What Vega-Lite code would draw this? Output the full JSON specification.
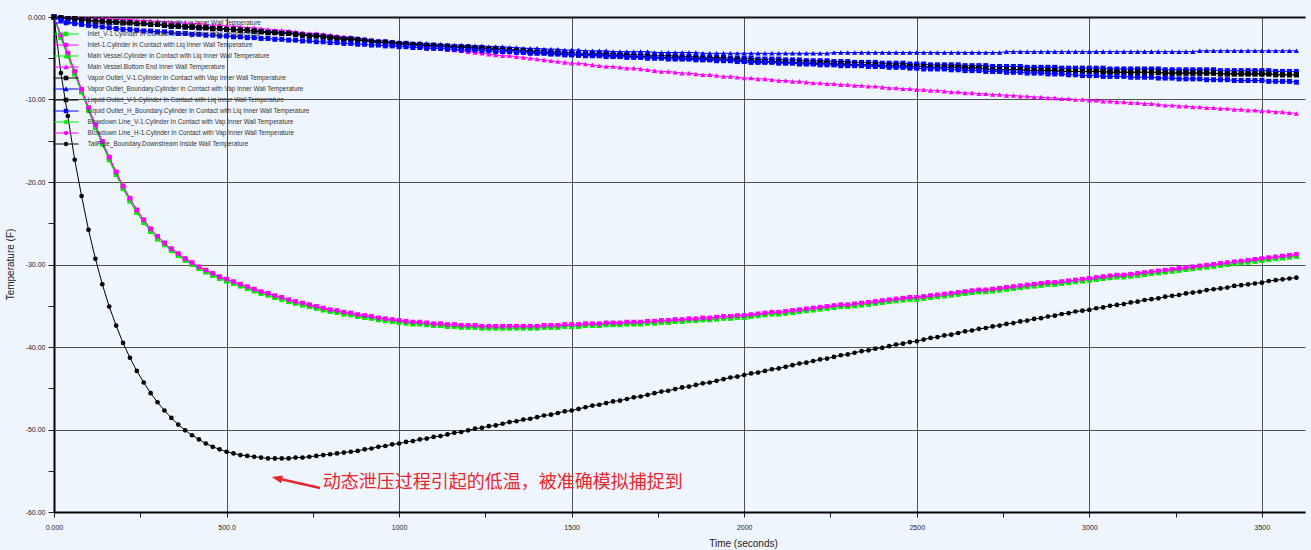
{
"$schema":"https://vega.github.io/schema/vega-lite/v6.json",
"width":1251,"height":495,
"autosize":{"type":"none"},
"padding":{"left":54,"top":17,"right":6,"bottom":38},
"background":"#EFF5FC",
"config":{"view":{"stroke":null,"fill":"#EFF5FC"},"font":"Liberation Sans","axis":{"labelFont":"Liberation Sans","titleFont":"Liberation Sans"},"legend":{"labelFont":"Liberation Sans"}},
"datasets":{"w":[
{"t":0,"a":0,"b":0,"c":0,"e":0,"f":0,"g":0,"i":0,"l":0},
{"t":20,"a":-0.1,"b":-2.5,"c":-2.2,"e":0,"f":-0.1,"g":-0.1,"i":-0.4,"l":-6.8},
{"t":40,"a":-0.2,"b":-4.7,"c":-4.4,"e":-0.1,"f":-0.2,"g":-0.2,"i":-0.6,"l":-12.0},
{"t":60,"a":-0.2,"b":-6.9,"c":-6.6,"e":-0.1,"f":-0.2,"g":-0.2,"i":-0.8,"l":-17.3},
{"t":80,"a":-0.3,"b":-9.1,"c":-8.8,"e":-0.1,"f":-0.3,"g":-0.3,"i":-0.9,"l":-21.7},
{"t":100,"a":-0.4,"b":-11.3,"c":-11.0,"e":-0.2,"f":-0.4,"g":-0.4,"i":-1.0,"l":-25.8},
{"t":120,"a":-0.5,"b":-13.4,"c":-13.1,"e":-0.2,"f":-0.5,"g":-0.5,"i":-1.1,"l":-29.3},
{"t":140,"a":-0.5,"b":-15.4,"c":-15.1,"e":-0.2,"f":-0.5,"g":-0.5,"i":-1.2,"l":-32.4},
{"t":160,"a":-0.6,"b":-17.3,"c":-17.0,"e":-0.2,"f":-0.6,"g":-0.6,"i":-1.3,"l":-35.1},
{"t":180,"a":-0.6,"b":-19.1,"c":-18.8,"e":-0.3,"f":-0.6,"g":-0.6,"i":-1.4,"l":-37.4},
{"t":200,"a":-0.7,"b":-20.8,"c":-20.5,"e":-0.3,"f":-0.7,"g":-0.7,"i":-1.5,"l":-39.5},
{"t":220,"a":-0.7,"b":-22.3,"c":-22.0,"e":-0.3,"f":-0.7,"g":-0.7,"i":-1.5,"l":-41.3},
{"t":240,"a":-0.8,"b":-23.7,"c":-23.4,"e":-0.4,"f":-0.8,"g":-0.8,"i":-1.6,"l":-42.9},
{"t":260,"a":-0.8,"b":-24.9,"c":-24.6,"e":-0.4,"f":-0.8,"g":-0.8,"i":-1.7,"l":-44.3},
{"t":280,"a":-0.9,"b":-26.0,"c":-25.7,"e":-0.5,"f":-0.9,"g":-0.9,"i":-1.7,"l":-45.6},
{"t":300,"a":-0.9,"b":-26.9,"c":-26.6,"e":-0.5,"f":-0.9,"g":-0.9,"i":-1.8,"l":-46.7},
{"t":320,"a":-1.0,"b":-27.6,"c":-27.4,"e":-0.6,"f":-1.0,"g":-1.0,"i":-1.8,"l":-47.7},
{"t":340,"a":-1.1,"b":-28.3,"c":-28.1,"e":-0.6,"f":-1.1,"g":-1.1,"i":-1.9,"l":-48.6},
{"t":360,"a":-1.1,"b":-28.9,"c":-28.7,"e":-0.7,"f":-1.1,"g":-1.1,"i":-2.0,"l":-49.4},
{"t":380,"a":-1.2,"b":-29.5,"c":-29.3,"e":-0.7,"f":-1.2,"g":-1.2,"i":-2.0,"l":-50.1},
{"t":400,"a":-1.2,"b":-30.0,"c":-29.8,"e":-0.8,"f":-1.2,"g":-1.2,"i":-2.1,"l":-50.7},
{"t":420,"a":-1.3,"b":-30.5,"c":-30.3,"e":-0.8,"f":-1.3,"g":-1.3,"i":-2.1,"l":-51.2},
{"t":440,"a":-1.3,"b":-30.9,"c":-30.7,"e":-0.9,"f":-1.3,"g":-1.3,"i":-2.2,"l":-51.7},
{"t":460,"a":-1.4,"b":-31.3,"c":-31.1,"e":-1.0,"f":-1.4,"g":-1.4,"i":-2.2,"l":-52.1},
{"t":480,"a":-1.4,"b":-31.7,"c":-31.5,"e":-1.0,"f":-1.4,"g":-1.4,"i":-2.3,"l":-52.4},
{"t":500,"a":-1.5,"b":-32.0,"c":-31.8,"e":-1.1,"f":-1.5,"g":-1.5,"i":-2.3,"l":-52.7},
{"t":520,"a":-1.5,"b":-32.3,"c":-32.1,"e":-1.1,"f":-1.5,"g":-1.5,"i":-2.4,"l":-52.9},
{"t":540,"a":-1.6,"b":-32.6,"c":-32.4,"e":-1.2,"f":-1.6,"g":-1.6,"i":-2.4,"l":-53.1},
{"t":560,"a":-1.6,"b":-32.9,"c":-32.7,"e":-1.3,"f":-1.6,"g":-1.6,"i":-2.5,"l":-53.2},
{"t":580,"a":-1.7,"b":-33.2,"c":-33.0,"e":-1.3,"f":-1.7,"g":-1.7,"i":-2.5,"l":-53.3},
{"t":600,"a":-1.7,"b":-33.5,"c":-33.3,"e":-1.4,"f":-1.8,"g":-1.7,"i":-2.6,"l":-53.4},
{"t":620,"a":-1.8,"b":-33.7,"c":-33.5,"e":-1.5,"f":-1.9,"g":-1.8,"i":-2.6,"l":-53.5},
{"t":640,"a":-1.8,"b":-34.0,"c":-33.8,"e":-1.6,"f":-1.9,"g":-1.8,"i":-2.7,"l":-53.5},
{"t":660,"a":-1.9,"b":-34.2,"c":-34.0,"e":-1.6,"f":-2.0,"g":-1.9,"i":-2.7,"l":-53.5},
{"t":680,"a":-1.9,"b":-34.5,"c":-34.3,"e":-1.7,"f":-2.0,"g":-1.9,"i":-2.8,"l":-53.5},
{"t":700,"a":-2.0,"b":-34.7,"c":-34.5,"e":-1.8,"f":-2.1,"g":-2.0,"i":-2.8,"l":-53.4},
{"t":720,"a":-2.1,"b":-34.9,"c":-34.7,"e":-1.9,"f":-2.2,"g":-2.1,"i":-2.9,"l":-53.4},
{"t":740,"a":-2.2,"b":-35.1,"c":-34.9,"e":-2.0,"f":-2.3,"g":-2.2,"i":-2.9,"l":-53.3},
{"t":760,"a":-2.2,"b":-35.3,"c":-35.1,"e":-2.0,"f":-2.3,"g":-2.2,"i":-3.0,"l":-53.2},
{"t":780,"a":-2.3,"b":-35.5,"c":-35.3,"e":-2.1,"f":-2.4,"g":-2.3,"i":-3.0,"l":-53.1},
{"t":800,"a":-2.4,"b":-35.7,"c":-35.5,"e":-2.2,"f":-2.5,"g":-2.3,"i":-3.1,"l":-53.0},
{"t":820,"a":-2.5,"b":-35.8,"c":-35.6,"e":-2.3,"f":-2.6,"g":-2.4,"i":-3.1,"l":-52.9},
{"t":840,"a":-2.6,"b":-36.0,"c":-35.8,"e":-2.4,"f":-2.7,"g":-2.5,"i":-3.2,"l":-52.8},
{"t":860,"a":-2.6,"b":-36.1,"c":-35.9,"e":-2.5,"f":-2.7,"g":-2.5,"i":-3.2,"l":-52.7},
{"t":880,"a":-2.7,"b":-36.3,"c":-36.1,"e":-2.6,"f":-2.8,"g":-2.6,"i":-3.3,"l":-52.6},
{"t":900,"a":-2.8,"b":-36.4,"c":-36.2,"e":-2.7,"f":-2.9,"g":-2.7,"i":-3.3,"l":-52.4},
{"t":920,"a":-2.9,"b":-36.5,"c":-36.3,"e":-2.8,"f":-3.0,"g":-2.8,"i":-3.4,"l":-52.3},
{"t":940,"a":-3.0,"b":-36.7,"c":-36.5,"e":-2.9,"f":-3.1,"g":-2.9,"i":-3.4,"l":-52.1},
{"t":960,"a":-3.0,"b":-36.8,"c":-36.6,"e":-3.0,"f":-3.1,"g":-2.9,"i":-3.5,"l":-52.0},
{"t":980,"a":-3.1,"b":-36.9,"c":-36.7,"e":-3.1,"f":-3.2,"g":-3.0,"i":-3.5,"l":-51.8},
{"t":1000,"a":-3.2,"b":-37.0,"c":-36.8,"e":-3.2,"f":-3.3,"g":-3.1,"i":-3.6,"l":-51.7},
{"t":1020,"a":-3.2,"b":-37.1,"c":-36.9,"e":-3.3,"f":-3.3,"g":-3.1,"i":-3.6,"l":-51.5},
{"t":1040,"a":-3.3,"b":-37.2,"c":-37.0,"e":-3.4,"f":-3.4,"g":-3.2,"i":-3.7,"l":-51.4},
{"t":1060,"a":-3.3,"b":-37.2,"c":-37.0,"e":-3.5,"f":-3.4,"g":-3.2,"i":-3.7,"l":-51.2},
{"t":1080,"a":-3.4,"b":-37.3,"c":-37.1,"e":-3.6,"f":-3.5,"g":-3.2,"i":-3.8,"l":-51.1},
{"t":1100,"a":-3.4,"b":-37.4,"c":-37.2,"e":-3.7,"f":-3.5,"g":-3.3,"i":-3.8,"l":-50.9},
{"t":1120,"a":-3.5,"b":-37.4,"c":-37.2,"e":-3.8,"f":-3.6,"g":-3.3,"i":-3.8,"l":-50.8},
{"t":1140,"a":-3.5,"b":-37.5,"c":-37.3,"e":-3.9,"f":-3.6,"g":-3.4,"i":-3.9,"l":-50.6},
{"t":1160,"a":-3.6,"b":-37.5,"c":-37.3,"e":-4.0,"f":-3.7,"g":-3.4,"i":-3.9,"l":-50.4},
{"t":1180,"a":-3.6,"b":-37.6,"c":-37.4,"e":-4.1,"f":-3.7,"g":-3.4,"i":-4.0,"l":-50.3},
{"t":1200,"a":-3.6,"b":-37.6,"c":-37.4,"e":-4.2,"f":-3.7,"g":-3.5,"i":-4.0,"l":-50.1},
{"t":1220,"a":-3.7,"b":-37.6,"c":-37.4,"e":-4.3,"f":-3.8,"g":-3.5,"i":-4.0,"l":-49.9},
{"t":1240,"a":-3.7,"b":-37.7,"c":-37.5,"e":-4.4,"f":-3.8,"g":-3.5,"i":-4.1,"l":-49.8},
{"t":1260,"a":-3.8,"b":-37.7,"c":-37.5,"e":-4.5,"f":-3.9,"g":-3.6,"i":-4.1,"l":-49.6},
{"t":1280,"a":-3.8,"b":-37.7,"c":-37.5,"e":-4.6,"f":-3.9,"g":-3.6,"i":-4.2,"l":-49.5},
{"t":1300,"a":-3.9,"b":-37.7,"c":-37.5,"e":-4.7,"f":-4.0,"g":-3.6,"i":-4.2,"l":-49.3},
{"t":1320,"a":-3.9,"b":-37.7,"c":-37.5,"e":-4.7,"f":-4.0,"g":-3.7,"i":-4.2,"l":-49.1},
{"t":1340,"a":-4.0,"b":-37.7,"c":-37.5,"e":-4.8,"f":-4.1,"g":-3.7,"i":-4.3,"l":-49.0},
{"t":1360,"a":-4.0,"b":-37.7,"c":-37.5,"e":-4.9,"f":-4.1,"g":-3.8,"i":-4.3,"l":-48.8},
{"t":1380,"a":-4.1,"b":-37.7,"c":-37.5,"e":-5.0,"f":-4.2,"g":-3.8,"i":-4.4,"l":-48.7},
{"t":1400,"a":-4.1,"b":-37.7,"c":-37.5,"e":-5.1,"f":-4.3,"g":-3.8,"i":-4.4,"l":-48.5},
{"t":1420,"a":-4.1,"b":-37.6,"c":-37.4,"e":-5.2,"f":-4.3,"g":-3.9,"i":-4.4,"l":-48.3},
{"t":1440,"a":-4.2,"b":-37.6,"c":-37.4,"e":-5.3,"f":-4.4,"g":-3.9,"i":-4.5,"l":-48.2},
{"t":1460,"a":-4.2,"b":-37.6,"c":-37.4,"e":-5.4,"f":-4.4,"g":-3.9,"i":-4.5,"l":-48.0},
{"t":1480,"a":-4.3,"b":-37.5,"c":-37.3,"e":-5.5,"f":-4.5,"g":-4.0,"i":-4.6,"l":-47.8},
{"t":1500,"a":-4.3,"b":-37.5,"c":-37.3,"e":-5.6,"f":-4.5,"g":-4.0,"i":-4.6,"l":-47.7},
{"t":1520,"a":-4.4,"b":-37.5,"c":-37.3,"e":-5.6,"f":-4.6,"g":-4.0,"i":-4.6,"l":-47.5},
{"t":1540,"a":-4.4,"b":-37.4,"c":-37.2,"e":-5.7,"f":-4.6,"g":-4.1,"i":-4.7,"l":-47.3},
{"t":1560,"a":-4.4,"b":-37.4,"c":-37.2,"e":-5.8,"f":-4.6,"g":-4.1,"i":-4.7,"l":-47.1},
{"t":1580,"a":-4.4,"b":-37.4,"c":-37.2,"e":-5.9,"f":-4.6,"g":-4.1,"i":-4.7,"l":-47.0},
{"t":1600,"a":-4.4,"b":-37.3,"c":-37.1,"e":-6.0,"f":-4.6,"g":-4.1,"i":-4.8,"l":-46.8},
{"t":1620,"a":-4.5,"b":-37.3,"c":-37.1,"e":-6.0,"f":-4.7,"g":-4.2,"i":-4.8,"l":-46.6},
{"t":1640,"a":-4.5,"b":-37.3,"c":-37.1,"e":-6.1,"f":-4.7,"g":-4.2,"i":-4.8,"l":-46.5},
{"t":1660,"a":-4.5,"b":-37.2,"c":-37.0,"e":-6.2,"f":-4.7,"g":-4.2,"i":-4.9,"l":-46.3},
{"t":1680,"a":-4.6,"b":-37.2,"c":-37.0,"e":-6.2,"f":-4.8,"g":-4.2,"i":-4.9,"l":-46.1},
{"t":1700,"a":-4.6,"b":-37.2,"c":-37.0,"e":-6.3,"f":-4.8,"g":-4.2,"i":-4.9,"l":-46.0},
{"t":1720,"a":-4.6,"b":-37.1,"c":-36.9,"e":-6.4,"f":-4.8,"g":-4.2,"i":-5.0,"l":-45.8},
{"t":1740,"a":-4.7,"b":-37.1,"c":-36.9,"e":-6.5,"f":-4.9,"g":-4.3,"i":-5.0,"l":-45.6},
{"t":1760,"a":-4.7,"b":-37.0,"c":-36.8,"e":-6.6,"f":-4.9,"g":-4.3,"i":-5.0,"l":-45.4},
{"t":1780,"a":-4.7,"b":-37.0,"c":-36.8,"e":-6.6,"f":-4.9,"g":-4.3,"i":-5.1,"l":-45.3},
{"t":1800,"a":-4.7,"b":-36.9,"c":-36.7,"e":-6.7,"f":-4.9,"g":-4.3,"i":-5.1,"l":-45.1},
{"t":1820,"a":-4.8,"b":-36.9,"c":-36.7,"e":-6.8,"f":-5.0,"g":-4.3,"i":-5.1,"l":-44.9},
{"t":1840,"a":-4.8,"b":-36.8,"c":-36.6,"e":-6.8,"f":-5.0,"g":-4.3,"i":-5.1,"l":-44.8},
{"t":1860,"a":-4.8,"b":-36.8,"c":-36.6,"e":-6.9,"f":-5.0,"g":-4.3,"i":-5.2,"l":-44.6},
{"t":1880,"a":-4.9,"b":-36.7,"c":-36.5,"e":-7.0,"f":-5.1,"g":-4.4,"i":-5.2,"l":-44.4},
{"t":1900,"a":-4.9,"b":-36.7,"c":-36.5,"e":-7.0,"f":-5.1,"g":-4.4,"i":-5.2,"l":-44.3},
{"t":1920,"a":-4.9,"b":-36.6,"c":-36.4,"e":-7.1,"f":-5.1,"g":-4.4,"i":-5.3,"l":-44.1},
{"t":1940,"a":-4.9,"b":-36.5,"c":-36.3,"e":-7.2,"f":-5.1,"g":-4.4,"i":-5.3,"l":-43.9},
{"t":1960,"a":-5.0,"b":-36.5,"c":-36.3,"e":-7.2,"f":-5.2,"g":-4.4,"i":-5.3,"l":-43.7},
{"t":1980,"a":-5.0,"b":-36.4,"c":-36.2,"e":-7.3,"f":-5.2,"g":-4.4,"i":-5.4,"l":-43.6},
{"t":2000,"a":-5.0,"b":-36.4,"c":-36.2,"e":-7.4,"f":-5.3,"g":-4.4,"i":-5.4,"l":-43.4},
{"t":2020,"a":-5.0,"b":-36.3,"c":-36.1,"e":-7.4,"f":-5.3,"g":-4.4,"i":-5.5,"l":-43.2},
{"t":2040,"a":-5.1,"b":-36.2,"c":-36.0,"e":-7.5,"f":-5.4,"g":-4.4,"i":-5.5,"l":-43.1},
{"t":2060,"a":-5.1,"b":-36.1,"c":-35.9,"e":-7.5,"f":-5.4,"g":-4.4,"i":-5.5,"l":-42.9},
{"t":2080,"a":-5.1,"b":-36.0,"c":-35.8,"e":-7.6,"f":-5.4,"g":-4.4,"i":-5.5,"l":-42.7},
{"t":2100,"a":-5.1,"b":-36.0,"c":-35.8,"e":-7.7,"f":-5.4,"g":-4.4,"i":-5.6,"l":-42.6},
{"t":2120,"a":-5.2,"b":-35.9,"c":-35.7,"e":-7.7,"f":-5.5,"g":-4.4,"i":-5.6,"l":-42.4},
{"t":2140,"a":-5.2,"b":-35.8,"c":-35.6,"e":-7.8,"f":-5.5,"g":-4.4,"i":-5.6,"l":-42.2},
{"t":2160,"a":-5.2,"b":-35.7,"c":-35.5,"e":-7.8,"f":-5.5,"g":-4.4,"i":-5.7,"l":-42.0},
{"t":2180,"a":-5.3,"b":-35.6,"c":-35.4,"e":-7.9,"f":-5.6,"g":-4.4,"i":-5.7,"l":-41.9},
{"t":2200,"a":-5.3,"b":-35.5,"c":-35.3,"e":-8.0,"f":-5.6,"g":-4.4,"i":-5.7,"l":-41.7},
{"t":2220,"a":-5.3,"b":-35.4,"c":-35.2,"e":-8.0,"f":-5.6,"g":-4.4,"i":-5.8,"l":-41.5},
{"t":2240,"a":-5.3,"b":-35.3,"c":-35.1,"e":-8.1,"f":-5.6,"g":-4.4,"i":-5.8,"l":-41.4},
{"t":2260,"a":-5.4,"b":-35.2,"c":-35.0,"e":-8.1,"f":-5.7,"g":-4.3,"i":-5.8,"l":-41.2},
{"t":2280,"a":-5.4,"b":-35.1,"c":-34.9,"e":-8.2,"f":-5.7,"g":-4.3,"i":-5.9,"l":-41.0},
{"t":2300,"a":-5.4,"b":-35.1,"c":-34.9,"e":-8.2,"f":-5.7,"g":-4.3,"i":-5.9,"l":-40.9},
{"t":2320,"a":-5.5,"b":-35.0,"c":-34.8,"e":-8.3,"f":-5.8,"g":-4.3,"i":-5.9,"l":-40.7},
{"t":2340,"a":-5.5,"b":-34.9,"c":-34.7,"e":-8.3,"f":-5.8,"g":-4.3,"i":-5.9,"l":-40.5},
{"t":2360,"a":-5.5,"b":-34.8,"c":-34.6,"e":-8.4,"f":-5.8,"g":-4.3,"i":-6.0,"l":-40.4},
{"t":2380,"a":-5.5,"b":-34.7,"c":-34.5,"e":-8.4,"f":-5.8,"g":-4.3,"i":-6.0,"l":-40.2},
{"t":2400,"a":-5.6,"b":-34.6,"c":-34.4,"e":-8.5,"f":-5.9,"g":-4.3,"i":-6.0,"l":-40.1},
{"t":2420,"a":-5.6,"b":-34.5,"c":-34.3,"e":-8.6,"f":-5.9,"g":-4.3,"i":-6.1,"l":-39.9},
{"t":2440,"a":-5.6,"b":-34.4,"c":-34.2,"e":-8.6,"f":-5.9,"g":-4.3,"i":-6.1,"l":-39.7},
{"t":2460,"a":-5.6,"b":-34.3,"c":-34.1,"e":-8.7,"f":-5.9,"g":-4.3,"i":-6.1,"l":-39.6},
{"t":2480,"a":-5.7,"b":-34.2,"c":-34.0,"e":-8.7,"f":-6.0,"g":-4.3,"i":-6.2,"l":-39.4},
{"t":2500,"a":-5.7,"b":-34.2,"c":-34.0,"e":-8.8,"f":-6.0,"g":-4.3,"i":-6.2,"l":-39.3},
{"t":2520,"a":-5.7,"b":-34.1,"c":-33.9,"e":-8.8,"f":-6.0,"g":-4.3,"i":-6.3,"l":-39.1},
{"t":2540,"a":-5.8,"b":-34.0,"c":-33.8,"e":-8.9,"f":-6.1,"g":-4.3,"i":-6.3,"l":-38.9},
{"t":2560,"a":-5.8,"b":-33.9,"c":-33.7,"e":-8.9,"f":-6.1,"g":-4.3,"i":-6.3,"l":-38.8},
{"t":2580,"a":-5.8,"b":-33.8,"c":-33.6,"e":-9.0,"f":-6.1,"g":-4.3,"i":-6.3,"l":-38.6},
{"t":2600,"a":-5.8,"b":-33.7,"c":-33.5,"e":-9.1,"f":-6.1,"g":-4.3,"i":-6.4,"l":-38.5},
{"t":2620,"a":-5.8,"b":-33.6,"c":-33.4,"e":-9.1,"f":-6.1,"g":-4.3,"i":-6.4,"l":-38.3},
{"t":2640,"a":-5.9,"b":-33.5,"c":-33.3,"e":-9.2,"f":-6.2,"g":-4.3,"i":-6.5,"l":-38.1},
{"t":2660,"a":-5.9,"b":-33.4,"c":-33.2,"e":-9.2,"f":-6.2,"g":-4.3,"i":-6.5,"l":-38.0},
{"t":2680,"a":-5.9,"b":-33.3,"c":-33.1,"e":-9.3,"f":-6.2,"g":-4.3,"i":-6.5,"l":-37.8},
{"t":2700,"a":-5.9,"b":-33.3,"c":-33.1,"e":-9.3,"f":-6.3,"g":-4.3,"i":-6.6,"l":-37.7},
{"t":2720,"a":-6.0,"b":-33.2,"c":-33.0,"e":-9.4,"f":-6.4,"g":-4.3,"i":-6.6,"l":-37.5},
{"t":2740,"a":-6.0,"b":-33.1,"c":-32.9,"e":-9.4,"f":-6.4,"g":-4.3,"i":-6.6,"l":-37.4},
{"t":2760,"a":-6.0,"b":-33.0,"c":-32.8,"e":-9.5,"f":-6.4,"g":-4.2,"i":-6.7,"l":-37.2},
{"t":2780,"a":-6.0,"b":-32.9,"c":-32.7,"e":-9.5,"f":-6.4,"g":-4.2,"i":-6.7,"l":-37.1},
{"t":2800,"a":-6.0,"b":-32.8,"c":-32.6,"e":-9.6,"f":-6.4,"g":-4.2,"i":-6.7,"l":-36.9},
{"t":2820,"a":-6.1,"b":-32.7,"c":-32.5,"e":-9.6,"f":-6.5,"g":-4.2,"i":-6.8,"l":-36.8},
{"t":2840,"a":-6.1,"b":-32.6,"c":-32.4,"e":-9.7,"f":-6.5,"g":-4.2,"i":-6.8,"l":-36.6},
{"t":2860,"a":-6.1,"b":-32.5,"c":-32.3,"e":-9.7,"f":-6.5,"g":-4.2,"i":-6.8,"l":-36.5},
{"t":2880,"a":-6.1,"b":-32.4,"c":-32.2,"e":-9.8,"f":-6.5,"g":-4.2,"i":-6.9,"l":-36.3},
{"t":2900,"a":-6.1,"b":-32.4,"c":-32.2,"e":-9.8,"f":-6.5,"g":-4.2,"i":-6.9,"l":-36.2},
{"t":2920,"a":-6.2,"b":-32.3,"c":-32.1,"e":-9.9,"f":-6.6,"g":-4.2,"i":-6.9,"l":-36.0},
{"t":2940,"a":-6.2,"b":-32.2,"c":-32.0,"e":-9.9,"f":-6.6,"g":-4.2,"i":-7.0,"l":-35.9},
{"t":2960,"a":-6.2,"b":-32.1,"c":-31.9,"e":-10.0,"f":-6.6,"g":-4.2,"i":-7.0,"l":-35.7},
{"t":2980,"a":-6.2,"b":-32.0,"c":-31.8,"e":-10.0,"f":-6.6,"g":-4.2,"i":-7.1,"l":-35.6},
{"t":3000,"a":-6.2,"b":-31.9,"c":-31.7,"e":-10.1,"f":-6.6,"g":-4.2,"i":-7.1,"l":-35.5},
{"t":3020,"a":-6.2,"b":-31.8,"c":-31.6,"e":-10.1,"f":-6.6,"g":-4.2,"i":-7.1,"l":-35.3},
{"t":3040,"a":-6.2,"b":-31.7,"c":-31.5,"e":-10.2,"f":-6.6,"g":-4.2,"i":-7.2,"l":-35.2},
{"t":3060,"a":-6.3,"b":-31.6,"c":-31.4,"e":-10.2,"f":-6.7,"g":-4.2,"i":-7.2,"l":-35.0},
{"t":3080,"a":-6.3,"b":-31.5,"c":-31.3,"e":-10.3,"f":-6.7,"g":-4.2,"i":-7.2,"l":-34.9},
{"t":3100,"a":-6.3,"b":-31.5,"c":-31.3,"e":-10.3,"f":-6.7,"g":-4.2,"i":-7.2,"l":-34.8},
{"t":3120,"a":-6.3,"b":-31.4,"c":-31.2,"e":-10.4,"f":-6.7,"g":-4.2,"i":-7.3,"l":-34.6},
{"t":3140,"a":-6.3,"b":-31.3,"c":-31.1,"e":-10.4,"f":-6.7,"g":-4.2,"i":-7.3,"l":-34.5},
{"t":3160,"a":-6.3,"b":-31.2,"c":-31.0,"e":-10.5,"f":-6.7,"g":-4.2,"i":-7.3,"l":-34.3},
{"t":3180,"a":-6.3,"b":-31.1,"c":-30.9,"e":-10.5,"f":-6.7,"g":-4.2,"i":-7.3,"l":-34.2},
{"t":3200,"a":-6.3,"b":-31.0,"c":-30.8,"e":-10.6,"f":-6.7,"g":-4.2,"i":-7.4,"l":-34.1},
{"t":3220,"a":-6.4,"b":-30.9,"c":-30.7,"e":-10.7,"f":-6.8,"g":-4.2,"i":-7.4,"l":-33.9},
{"t":3240,"a":-6.4,"b":-30.8,"c":-30.6,"e":-10.7,"f":-6.8,"g":-4.2,"i":-7.4,"l":-33.8},
{"t":3260,"a":-6.4,"b":-30.7,"c":-30.5,"e":-10.8,"f":-6.8,"g":-4.2,"i":-7.5,"l":-33.7},
{"t":3280,"a":-6.4,"b":-30.6,"c":-30.4,"e":-10.8,"f":-6.8,"g":-4.2,"i":-7.5,"l":-33.5},
{"t":3300,"a":-6.4,"b":-30.5,"c":-30.3,"e":-10.9,"f":-6.8,"g":-4.2,"i":-7.5,"l":-33.4},
{"t":3320,"a":-6.4,"b":-30.4,"c":-30.2,"e":-10.9,"f":-6.8,"g":-4.1,"i":-7.5,"l":-33.3},
{"t":3340,"a":-6.4,"b":-30.3,"c":-30.1,"e":-11.0,"f":-6.8,"g":-4.1,"i":-7.6,"l":-33.1},
{"t":3360,"a":-6.4,"b":-30.2,"c":-30.0,"e":-11.0,"f":-6.8,"g":-4.1,"i":-7.6,"l":-33.0},
{"t":3380,"a":-6.5,"b":-30.1,"c":-29.9,"e":-11.1,"f":-6.9,"g":-4.1,"i":-7.6,"l":-32.9},
{"t":3400,"a":-6.5,"b":-30.0,"c":-29.8,"e":-11.1,"f":-6.9,"g":-4.1,"i":-7.6,"l":-32.8},
{"t":3420,"a":-6.5,"b":-29.9,"c":-29.7,"e":-11.2,"f":-6.9,"g":-4.1,"i":-7.7,"l":-32.6},
{"t":3440,"a":-6.5,"b":-29.8,"c":-29.6,"e":-11.2,"f":-6.9,"g":-4.1,"i":-7.7,"l":-32.5},
{"t":3460,"a":-6.5,"b":-29.7,"c":-29.5,"e":-11.3,"f":-6.9,"g":-4.1,"i":-7.7,"l":-32.4},
{"t":3480,"a":-6.5,"b":-29.6,"c":-29.4,"e":-11.3,"f":-6.9,"g":-4.1,"i":-7.7,"l":-32.3},
{"t":3500,"a":-6.5,"b":-29.5,"c":-29.3,"e":-11.4,"f":-6.9,"g":-4.1,"i":-7.7,"l":-32.2},
{"t":3520,"a":-6.5,"b":-29.4,"c":-29.2,"e":-11.4,"f":-6.9,"g":-4.1,"i":-7.8,"l":-32.0},
{"t":3540,"a":-6.6,"b":-29.3,"c":-29.1,"e":-11.5,"f":-7.0,"g":-4.1,"i":-7.8,"l":-31.9},
{"t":3560,"a":-6.6,"b":-29.2,"c":-29.0,"e":-11.5,"f":-7.0,"g":-4.1,"i":-7.8,"l":-31.8},
{"t":3580,"a":-6.6,"b":-29.1,"c":-28.9,"e":-11.6,"f":-7.0,"g":-4.1,"i":-7.8,"l":-31.7},
{"t":3600,"a":-6.6,"b":-29.0,"c":-28.8,"e":-11.7,"f":-7.0,"g":-4.1,"i":-7.9,"l":-31.6}
]},
"layer":[
{"data":{"values":[]},
 "mark":{"type":"point","filled":true,"opacity":1},
 "encoding":{
  "x":{"field":"t","type":"quantitative","scale":{"domain":[0,3625],"nice":false,"zero":false},"axis":{"orient":"top","title":null,"labels":false,"ticks":false,"grid":false,"domainColor":"#111","domainWidth":2}},
  "y":{"field":"v","type":"quantitative","scale":{"domain":[-60,0],"nice":false},"axis":{"orient":"left","title":"Temperature (F)","values":[-60,-55,-50,-45,-40,-35,-30,-25,-20,-15,-10,-5,0],"format":".4r","labelExpr":"datum.value === 0 ? '0.000' : (datum.value % 10 === 0 ? replace(datum.label, '\u2212', '-') : '')","labelFlush":false,"labelOverlap":false,"labelFontSize":7,"labelColor":"#222","labelPadding":3,"tickColor":"#222","tickSize":6,"domainColor":"#000","domainWidth":2,"grid":true,"gridColor":"#505050","gridWidth":1,"gridOpacity":{"condition":{"test":"datum.value % 10 === 0","value":1},"value":0},"titleFontSize":10,"titleFontWeight":"normal","titleColor":"#222","titleX":-44,"titleY":247,"titleBaseline":"middle"}},
  "color":{"field":"s","type":"nominal","scale":{"domain":["Inlet_H-1.Cylinder In Contact with Liq Inner Wall Temperature","Inlet_V-1.Cylinder In Contact with Liq Inner Wall Temperature","Inlet-1.Cylinder In Contact with Liq Inner Wall Temperature","Main Vessel.Cylinder In Contact with Liq Inner Wall Temperature","Main Vessel.Bottom End Inner Wall Temperature","Vapor Outlet_V-1.Cylinder In Contact with Vap Inner Wall Temperature","Vapor Outlet_Boundary.Cylinder In Contact with Vap Inner Wall Temperature","Liquid Outlet_V-1.Cylinder In Contact with Liq Inner Wall Temperature","Liquid Outlet_H_Boundary.Cylinder In Contact with Liq Inner Wall Temperature","Blowdown Line_V-1.Cylinder In Contact with Vap Inner Wall Temperature","Blowdown Line_H-1.Cylinder In Contact with Vap Inner Wall Temperature","TailPipe_Boundary.Downstream Inside Wall Temperature"],"range":["#0000FF","#00EE00","#FF00FF","#00EE00","#FF00FF","#000000","#0000FF","#000000","#0000FF","#00EE00","#FF00FF","#000000"]},
   "legend":{"orient":"none","legendX":7,"legendY":1,"title":null,"padding":0,"symbolSize":100,"symbolStrokeWidth":0,"labelFontSize":6.4,"labelColor":"#333","labelOffset":16.5,"rowPadding":2,"labelLimit":400}},
  "shape":{"field":"s","type":"nominal","scale":{"domain":["Inlet_H-1.Cylinder In Contact with Liq Inner Wall Temperature","Inlet_V-1.Cylinder In Contact with Liq Inner Wall Temperature","Inlet-1.Cylinder In Contact with Liq Inner Wall Temperature","Main Vessel.Cylinder In Contact with Liq Inner Wall Temperature","Main Vessel.Bottom End Inner Wall Temperature","Vapor Outlet_V-1.Cylinder In Contact with Vap Inner Wall Temperature","Vapor Outlet_Boundary.Cylinder In Contact with Vap Inner Wall Temperature","Liquid Outlet_V-1.Cylinder In Contact with Liq Inner Wall Temperature","Liquid Outlet_H_Boundary.Cylinder In Contact with Liq Inner Wall Temperature","Blowdown Line_V-1.Cylinder In Contact with Vap Inner Wall Temperature","Blowdown Line_H-1.Cylinder In Contact with Vap Inner Wall Temperature","TailPipe_Boundary.Downstream Inside Wall Temperature"],"range":["M-2.5,-0.1H2.5V0.1H-2.5ZM-0.45,-0.45H0.45V0.45H-0.45Z","M-2.5,-0.1H2.5V0.1H-2.5ZM-0.45,-0.45H0.45V0.45H-0.45Z","M-2.5,-0.1H2.5V0.1H-2.5ZM-0.45,-0.45H0.45V0.45H-0.45Z","M-2.5,-0.1H2.5V0.1H-2.5ZM0,-0.55L0.55,0.45H-0.55Z","M-2.5,-0.1H2.5V0.1H-2.5ZM0,-0.55L0.55,0.45H-0.55Z","M-2.5,-0.1H2.5V0.1H-2.5ZM-0.45,-0.45H0.45V0.45H-0.45Z","M-2.5,-0.1H2.5V0.1H-2.5ZM0,-0.55L0.55,0.45H-0.55Z","M-2.5,-0.1H2.5V0.1H-2.5ZM-0.45,-0.45H0.45V0.45H-0.45Z","M-2.5,-0.1H2.5V0.1H-2.5ZM-0.45,-0.45H0.45V0.45H-0.45Z","M-2.5,-0.1H2.5V0.1H-2.5ZM-0.45,0A0.45,0.45,0,1,1,0.45,0A0.45,0.45,0,1,1,-0.45,0Z","M-2.5,-0.1H2.5V0.1H-2.5ZM-0.45,0A0.45,0.45,0,1,1,0.45,0A0.45,0.45,0,1,1,-0.45,0Z","M-2.5,-0.1H2.5V0.1H-2.5ZM-0.45,0A0.45,0.45,0,1,1,0.45,0A0.45,0.45,0,1,1,-0.45,0Z"]}}
 }},
{"data":{"name":"w"},
 "encoding":{"x":{"field":"t","type":"quantitative","scale":{"domain":[0,3625],"nice":false,"zero":false},
   "axis":{"orient":"bottom","title":"Time (seconds)","values":[0,250,500,750,1000,1250,1500,1750,2000,2250,2500,2750,3000,3250,3500],"format":".4r","labelExpr":"datum.value === 0 ? '0.000' : (datum.value % 500 === 0 ? datum.label : '')","labelFlush":false,"labelOverlap":false,"labelFontSize":7,"labelColor":"#222","labelPadding":6,"tickColor":"#222","tickSize":5,"domainColor":"#000","domainWidth":2,"grid":true,"gridColor":"#505050","gridWidth":1,"gridOpacity":{"condition":{"test":"datum.value % 500 === 0","value":1},"value":0},"titleFontSize":10,"titleFontWeight":"normal","titleColor":"#222","titleX":689,"titleY":31,"titleBaseline":"middle"}}},
 "layer":[
  {"mark":{"type":"line","strokeWidth":1,"point":{"filled":true,"shape":"square","size":25,"opacity":1}},"encoding":{"y":{"field":"a","type":"quantitative","scale":{"domain":[-60,0],"nice":false}},"color":{"datum":"Inlet_H-1.Cylinder In Contact with Liq Inner Wall Temperature","legend":null}}},
  {"mark":{"type":"line","strokeWidth":1,"point":{"filled":true,"shape":"square","size":25,"opacity":1}},"encoding":{"y":{"field":"b","type":"quantitative","scale":{"domain":[-60,0],"nice":false}},"color":{"datum":"Inlet_V-1.Cylinder In Contact with Liq Inner Wall Temperature","legend":null}}},
  {"mark":{"type":"line","strokeWidth":1,"point":{"filled":true,"shape":"square","size":25,"opacity":1}},"encoding":{"y":{"field":"c","type":"quantitative","scale":{"domain":[-60,0],"nice":false}},"color":{"datum":"Inlet-1.Cylinder In Contact with Liq Inner Wall Temperature","legend":null}}},
  {"mark":{"type":"line","strokeWidth":1,"point":{"filled":true,"shape":"triangle-up","size":28,"opacity":1}},"encoding":{"y":{"field":"b","type":"quantitative","scale":{"domain":[-60,0],"nice":false}},"color":{"datum":"Main Vessel.Cylinder In Contact with Liq Inner Wall Temperature","legend":null}}},
  {"mark":{"type":"line","strokeWidth":1,"point":{"filled":true,"shape":"triangle-up","size":28,"opacity":1}},"encoding":{"y":{"field":"e","type":"quantitative","scale":{"domain":[-60,0],"nice":false}},"color":{"datum":"Main Vessel.Bottom End Inner Wall Temperature","legend":null}}},
  {"mark":{"type":"line","strokeWidth":1,"point":{"filled":true,"shape":"square","size":25,"opacity":1}},"encoding":{"y":{"field":"f","type":"quantitative","scale":{"domain":[-60,0],"nice":false}},"color":{"datum":"Vapor Outlet_V-1.Cylinder In Contact with Vap Inner Wall Temperature","legend":null}}},
  {"mark":{"type":"line","strokeWidth":1,"point":{"filled":true,"shape":"triangle-up","size":28,"opacity":1}},"encoding":{"y":{"field":"g","type":"quantitative","scale":{"domain":[-60,0],"nice":false}},"color":{"datum":"Vapor Outlet_Boundary.Cylinder In Contact with Vap Inner Wall Temperature","legend":null}}},
  {"mark":{"type":"line","strokeWidth":1,"point":{"filled":true,"shape":"square","size":25,"opacity":1}},"encoding":{"y":{"field":"f","type":"quantitative","scale":{"domain":[-60,0],"nice":false}},"color":{"datum":"Liquid Outlet_V-1.Cylinder In Contact with Liq Inner Wall Temperature","legend":null}}},
  {"mark":{"type":"line","strokeWidth":1,"point":{"filled":true,"shape":"square","size":25,"opacity":1}},"encoding":{"y":{"field":"i","type":"quantitative","scale":{"domain":[-60,0],"nice":false}},"color":{"datum":"Liquid Outlet_H_Boundary.Cylinder In Contact with Liq Inner Wall Temperature","legend":null}}},
  {"mark":{"type":"line","strokeWidth":1,"point":{"filled":true,"shape":"circle","size":22,"opacity":1}},"encoding":{"y":{"field":"b","type":"quantitative","scale":{"domain":[-60,0],"nice":false}},"color":{"datum":"Blowdown Line_V-1.Cylinder In Contact with Vap Inner Wall Temperature","legend":null}}},
  {"mark":{"type":"line","strokeWidth":1,"point":{"filled":true,"shape":"circle","size":22,"opacity":1}},"encoding":{"y":{"field":"c","type":"quantitative","scale":{"domain":[-60,0],"nice":false}},"color":{"datum":"Blowdown Line_H-1.Cylinder In Contact with Vap Inner Wall Temperature","legend":null}}},
  {"mark":{"type":"line","strokeWidth":1,"point":{"filled":true,"shape":"circle","size":22,"opacity":1}},"encoding":{"y":{"field":"l","type":"quantitative","scale":{"domain":[-60,0],"nice":false}},"color":{"datum":"TailPipe_Boundary.Downstream Inside Wall Temperature","legend":null}}}
 ]},
{"data":{"values":[{"t":771,"v":-57.1,"t2":646,"v2":-55.9}]},
 "mark":{"type":"rule","color":"#E8262E","strokeWidth":2.5},
 "encoding":{"x":{"field":"t","type":"quantitative","scale":{"domain":[0,3625],"nice":false,"zero":false},"axis":null},"y":{"field":"v","type":"quantitative","scale":{"domain":[-60,0],"nice":false}},"x2":{"field":"t2"},"y2":{"field":"v2"}}},
{"data":{"values":[{"t":646,"v":-55.9}]},
 "mark":{"type":"point","shape":"M0,-1L0.75,1L-0.75,1Z","filled":true,"size":110,"angle":283,"color":"#E8262E","opacity":1},
 "encoding":{"x":{"field":"t","type":"quantitative","scale":{"domain":[0,3625],"nice":false,"zero":false},"axis":null},"y":{"field":"v","type":"quantitative","scale":{"domain":[-60,0],"nice":false}}}},
{"data":{"values":[{"t":779,"v":-56.5,"label":"动态泄压过程引起的低温，被准确模拟捕捉到"}]},
 "mark":{"type":"text","align":"left","baseline":"middle","font":"Noto Sans CJK SC","fontSize":18,"color":"#E8262E"},
 "encoding":{"x":{"field":"t","type":"quantitative","scale":{"domain":[0,3625],"nice":false,"zero":false},"axis":null},"y":{"field":"v","type":"quantitative","scale":{"domain":[-60,0],"nice":false}},"text":{"field":"label"}}}
],
"resolve":{"axis":{"x":"independent"}}
}
